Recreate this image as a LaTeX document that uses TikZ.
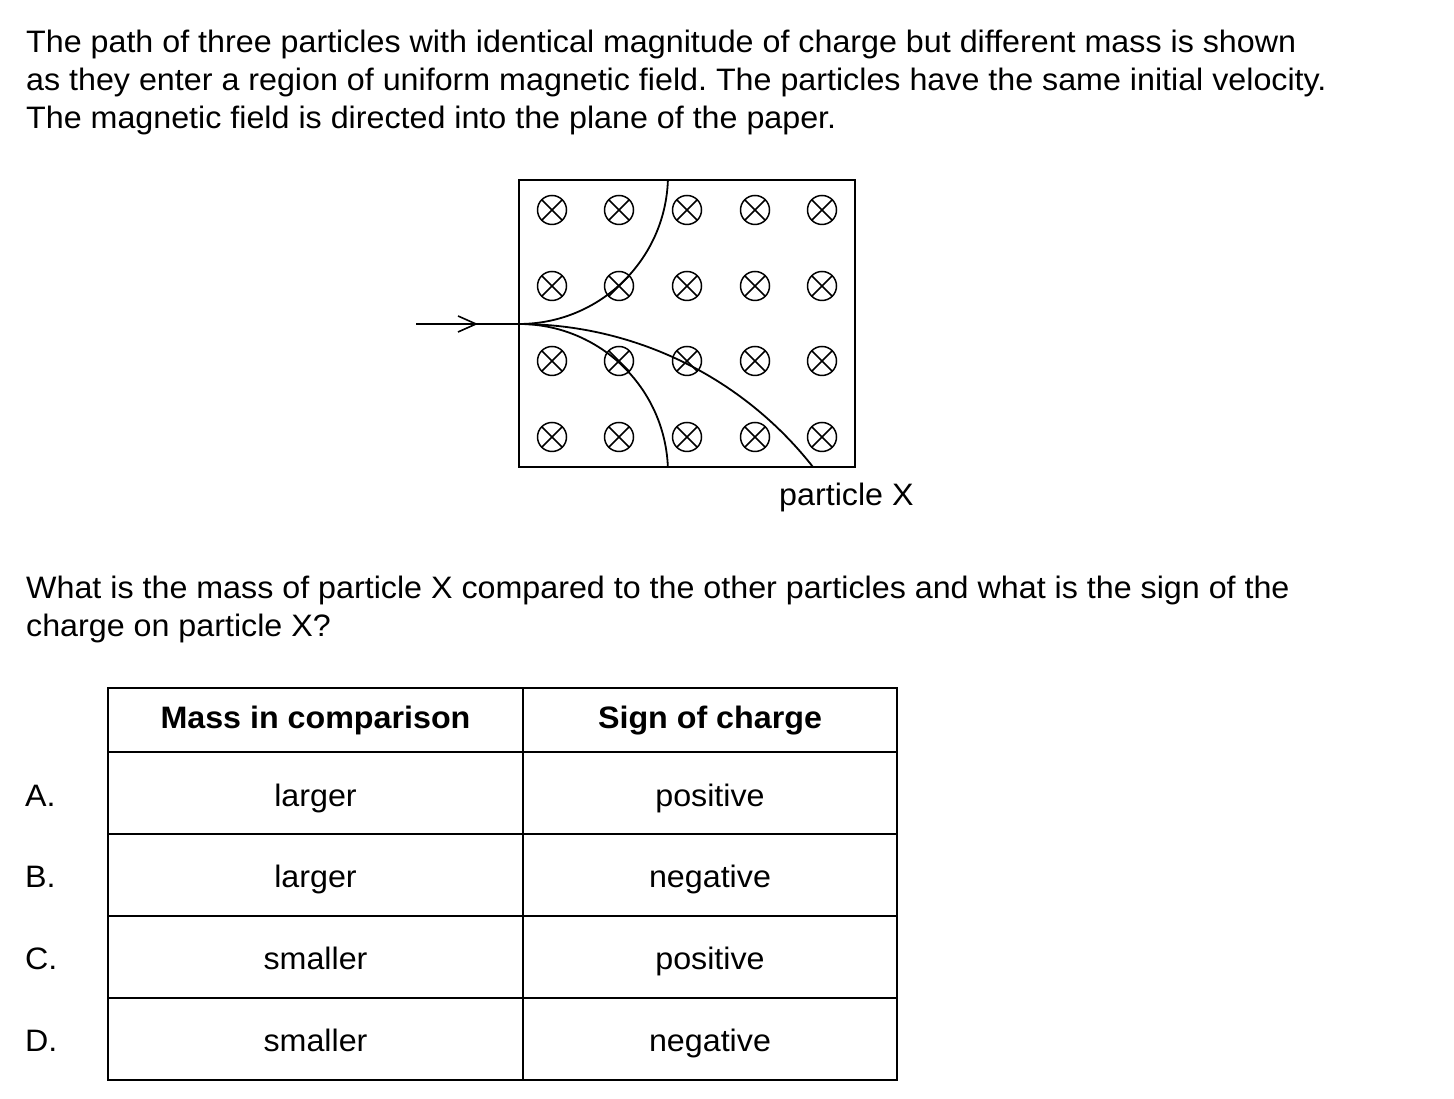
\documentclass[tikz,border=0pt]{standalone}
\usepackage{fontspec}
\setmainfont{Liberation Sans}[FakeStretch=1.04]
\frenchspacing
\begin{document}
\begin{tikzpicture}[x=1pt,y=1pt,
  txt/.style={anchor=base west,inner sep=0pt,font=\fontsize{31}{38}\selectfont},
  ctxt/.style={anchor=base,inner sep=0pt,font=\fontsize{31}{38}\selectfont},
  htxt/.style={anchor=base,inner sep=0pt,font=\fontsize{31}{38}\selectfont\bfseries},
  thin/.style={line width=1.6pt},
  fieldx/.style={circle,draw,line width=1.5pt,minimum size=29pt,inner sep=0pt,
    path picture={\draw[line width=1.5pt] (path picture bounding box.south west) -- (path picture bounding box.north east)
      (path picture bounding box.north west) -- (path picture bounding box.south east);}}
]
\useasboundingbox (0,0) rectangle (1454,1099);
% paragraph (y = 1099 - pixel)
\node[txt] (l1) at (26,1046) {The path of three particles with identical magnitude of charge but different mass is shown};
\node[txt] (l2) at (26,1008) {as they enter a region of uniform magnetic field. The particles have the same initial velocity.};
\node[txt] (l3) at (26,970) {The magnetic field is directed into the plane of the paper.};
% field box
\draw[thin] (519,919) rectangle (855,632);
\foreach \i/\x in {1/552,2/619,3/687,4/755,5/822}{
  \foreach \j/\y in {1/889,2/813,3/738,4/662}{
    \node[fieldx] (b\i\j) at (\x,\y) {};
  }
}
% incoming path
\coordinate (start) at (416,775);
\coordinate (entry) at (519,775);
\draw[line width=1.8pt] (start) -- (entry);
\draw[line width=1.6pt] (458,783) -- (476,775) -- (458,767);
% trajectories
\draw[line width=1.8pt] (entry) arc[start angle=-90,end angle=-1.9,radius=149];
\draw[line width=1.8pt] (entry) arc[start angle=90,end angle=2.3,radius=149];
\draw[line width=1.8pt] (entry) arc[start angle=90,end angle=38.1,radius=373.7];
\node[txt] (px) at (779,593) {particle X};
% question
\node[txt] (q1) at (26,500) {What is the mass of particle X compared to the other particles and what is the sign of the};
\node[txt] (q2) at (26,462) {charge on particle X?};
% table
\draw[thin] (108,411) rectangle (897,19);
\draw[thin] (523,411) -- (523,19);
\foreach \y in {347,265,183,101}{\draw[thin] (108,\y) -- (897,\y);}
\node[htxt] (h1) at (315.5,370) {Mass in comparison};
\node[htxt] (h2) at (710,370) {Sign of charge};
\foreach \n/\l/\m/\s/\y in {a/A./larger/positive/292, b/B./larger/negative/211, c/C./smaller/positive/129, d/D./smaller/negative/47}{
  \node[txt] (lab\n) at (25,\y) {\l};
  \node[ctxt] (m\n) at (315.5,\y) {\m};
  \node[ctxt] (s\n) at (710,\y) {\s};
}
\end{tikzpicture}
\end{document}
